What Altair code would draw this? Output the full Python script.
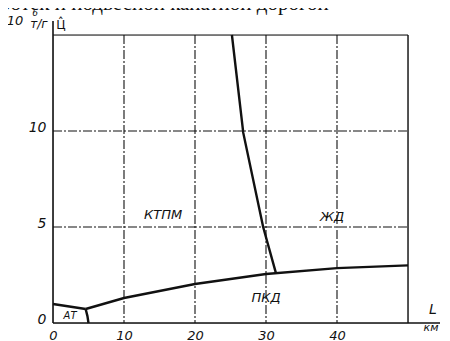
import altair as alt
import pandas as pd

# ---- data ----
pkd_x = [4.6, 10, 20, 30, 40, 50]
pkd_y = [0.73, 1.3, 2.03, 2.55, 2.86, 3.0]
at_top_x = [0, 4.6]
at_top_y = [0.99, 0.73]
at_side_x = [4.6, 4.85, 5.0]
at_side_y = [0.73, 0.36, 0.0]
steep_x = [25.2, 26.8, 29.6, 31.4]
steep_y = [15.0, 9.9, 5.0, 2.6]

grid_x = [10, 20, 30, 40]
grid_y = [5, 10]
x_ticks = [0, 10, 20, 30, 40]
y_ticks = [0, 5, 10]

region_names = ["КТПМ", "ЖД", "ПКД", "АТ"]
region_x = [15.5, 39.3, 30.0, 2.4]
region_y = [5.6, 5.5, 1.3, 0.36]
region_fs = [13, 13, 13, 10]

X_MAX, Y_MAX = 50, 15
W, H = 355, 288
FONT = "DejaVu Sans"
INK = "#111111"

rows = []
for name, xs, ys in [("pkd", pkd_x, pkd_y), ("at_top", at_top_x, at_top_y),
                     ("at_side", at_side_x, at_side_y), ("steep", steep_x, steep_y)]:
    for i, (a, b) in enumerate(zip(xs, ys)):
        rows.append({"series": name, "x": a, "y": b, "o": i})
curves_df = pd.DataFrame(rows)

xs = alt.Scale(domain=[0, X_MAX], nice=False, zero=False)
ys = alt.Scale(domain=[0, Y_MAX], nice=False, zero=False)

# invisible layer carrying the axis labels
axis_df = pd.DataFrame({"x": [0, X_MAX], "y": [0, Y_MAX]})
axes = alt.Chart(axis_df).mark_point(opacity=0).encode(
    x=alt.X("x:Q", scale=xs, title=None,
            axis=alt.Axis(values=x_ticks, domain=False, ticks=False, grid=False,
                          labelFont=FONT, labelFontStyle="italic", labelFontSize=13,
                          labelColor=INK, labelPadding=6, labelFlush=False)),
    y=alt.Y("y:Q", scale=ys, title=None,
            axis=alt.Axis(values=y_ticks, domain=False, ticks=False, grid=False,
                          labelFont=FONT, labelFontStyle="italic", labelFontSize=14,
                          labelColor=INK, labelPadding=7, labelOffset=-4)),
)

dash = [9, 2, 2, 2]
vgrid = alt.Chart(pd.DataFrame({"x": grid_x})).mark_rule(
    color=INK, strokeWidth=1.1, strokeDash=dash).encode(
    x=alt.X("x:Q", scale=xs), y=alt.value(0), y2=alt.value(H))
hgrid = alt.Chart(pd.DataFrame({"y": grid_y})).mark_rule(
    color=INK, strokeWidth=1.1, strokeDash=dash).encode(
    y=alt.Y("y:Q", scale=ys), x=alt.value(0), x2=alt.value(W))

# frame: right border, top border, extended left and bottom axes
right_b = alt.Chart(pd.DataFrame({"x": [X_MAX]})).mark_rule(
    color=INK, strokeWidth=1.4).encode(x=alt.X("x:Q", scale=xs), y=alt.value(0), y2=alt.value(H))
top_b = alt.Chart(pd.DataFrame({"y": [Y_MAX]})).mark_rule(
    color=INK, strokeWidth=1.2).encode(y=alt.Y("y:Q", scale=ys), x=alt.value(0), x2=alt.value(W))
left_ax = alt.Chart(pd.DataFrame({"x": [0]})).mark_rule(
    color=INK, strokeWidth=1.6).encode(x=alt.X("x:Q", scale=xs), y=alt.value(-14), y2=alt.value(H))
bottom_ax = alt.Chart(pd.DataFrame({"y": [0]})).mark_rule(
    color=INK, strokeWidth=1.6).encode(y=alt.Y("y:Q", scale=ys), x=alt.value(0), x2=alt.value(W + 32))

curves = alt.Chart(curves_df).mark_line(color=INK, strokeWidth=2.4).encode(
    x=alt.X("x:Q", scale=xs), y=alt.Y("y:Q", scale=ys),
    detail="series:N", order="o:Q")

reg_df = pd.DataFrame({"t": region_names, "x": region_x, "y": region_y, "fs": region_fs})
regions = alt.Chart(reg_df).mark_text(
    font=FONT, fontStyle="italic", color=INK, align="center", baseline="middle").encode(
    x=alt.X("x:Q", scale=xs), y=alt.Y("y:Q", scale=ys), text="t:N",
    size=alt.Size("fs:Q", scale=None, legend=None))

def ptext(txt, x, y, fs, align="center", font=FONT, style="italic", baseline="middle"):
    return alt.Chart(pd.DataFrame({"t": [txt]})).mark_text(
        font=font, fontStyle=style, fontSize=fs, color=INK,
        align=align, baseline=baseline).encode(
        text="t:N", x=alt.value(x), y=alt.value(y))

annots = [
    ptext("10", -38, -14, 13),
    ptext("6", -18, -22, 9),
    ptext("т/г", -14, -11, 12),
    ptext("Ц̂", 8, -10, 12, style="normal"),
    ptext("L", 380, 275, 14),
    ptext("км", 378, 293, 11),
    ptext("ротек  и  подвесной  канатной  дорогой", -53, -25, 21,
          align="left", font="Liberation Serif", style="normal", baseline="alphabetic"),
]

chart = alt.layer(axes, vgrid, hgrid, right_b, top_b, left_ax, bottom_ax,
                  curves, regions, *annots).properties(
    width=W, height=H,
    autosize=alt.AutoSizeParams(type="none"),
    padding={"left": 45, "top": 27, "right": 34, "bottom": 18},
).configure_view(stroke=None).configure(background="white")

chart.save("out.html", embed_options={"renderer": "svg", "actions": False})
